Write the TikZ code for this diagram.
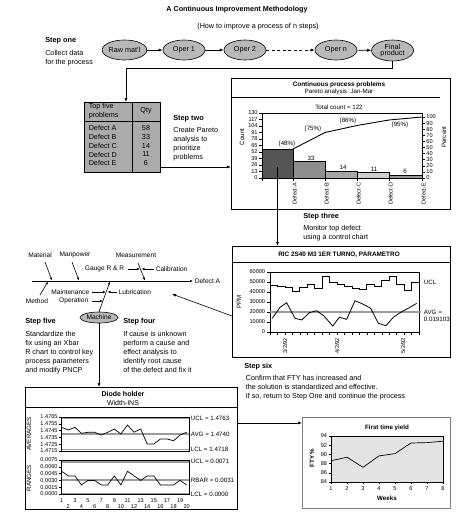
\documentclass[tikz,border=0pt]{standalone}
\usepackage{fontspec}
\setmainfont{Liberation Sans}
\usetikzlibrary{arrows.meta,shapes.geometric}
\definecolor{ellgray}{HTML}{B8B8B8}
\definecolor{tblgray}{HTML}{ABABAB}
\definecolor{ctlgray}{HTML}{9C9C9C}
\definecolor{barAc}{HTML}{555555}
\definecolor{barBc}{HTML}{8E8E8E}
\definecolor{barCc}{HTML}{A6A6A6}
\definecolor{barDc}{HTML}{D0D0D0}
\definecolor{barEc}{HTML}{9A9A9A}
\definecolor{ftyfill}{HTML}{E3E3E3}
\begin{document}
\begin{tikzpicture}[x=1pt,y=-1pt, line width=0.6pt,
  head/.style={font=\bfseries\fontsize{7.3}{9}\selectfont, inner sep=0pt, anchor=west},
  body/.style={font=\fontsize{7.2}{9}\selectfont, inner sep=0pt, anchor=north west, align=left},
  txt/.style={font=\fontsize{7.2}{9}\selectfont, inner sep=0.5pt},
  proc/.style={ellipse, draw, fill=ellgray, minimum width=42pt, minimum height=20pt, inner sep=0pt, font=\fontsize{7.2}{8}\selectfont, align=center},
  arr/.style={-{Latex[length=4pt,width=3pt]}, line width=0.6pt},
  sarr/.style={-{Latex[length=3pt,width=2.4pt]}, line width=0.6pt},
  lbl/.style={font=\fontsize{5.6}{6}\selectfont, inner sep=0.6pt},
  clbl/.style={font=\fontsize{6.2}{7}\selectfont, inner sep=0.6pt},
  ptitle/.style={font=\bfseries\fontsize{6.4}{7.5}\selectfont, inner sep=0pt},
  fish/.style={font=\fontsize{6.6}{7.5}\selectfont, inner sep=0.5pt},
  ctl/.style={line width=1.5pt, draw=ctlgray},
  panel/.style={draw, line width=0.7pt, anchor=north west, inner sep=0pt},
]
\useasboundingbox (0,0) rectangle (474,514);

% ---------------- title
\node[font=\bfseries\fontsize{7.2}{9}\selectfont] (title) at (237,10) {A Continuous Improvement Methodology};
\node[txt] (subtitle) at (258,27) {(How to improve a process of n steps)};

% ---------------- step one
\node[head] (s1h) at (45,41) {Step one};
\node[body] (s1b) at (45,49.5) {Collect data\\for the process};

\node[proc] (raw) at (124.5,50) {Raw mat'l};
\node[proc] (op1) at (184,50) {Oper 1};
\node[proc] (op2) at (245,50) {Oper 2};
\node[proc] (opn) at (336,50) {Oper n};
\node[proc, minimum height=21pt] (final) at (392.5,50.5) {Final\\[-1.5pt]product};
\draw[arr] (raw) -- (op1);
\draw[arr] (op1) -- (op2);
\draw[arr, dashed, dash pattern=on 3pt off 2.5pt] (op2) -- (opn);
\draw[arr] (opn) -- (final);

% ---------------- table
\node[draw, fill=tblgray, minimum width=76pt, minimum height=70pt, anchor=north west, inner sep=0pt] (tbl) at (84,102) {};
\draw ([xshift=48pt]tbl.north west) -- ([xshift=48pt]tbl.south west);
\draw (tbl.west |- 0,121) -- (tbl.east |- 0,121);
\node[txt, anchor=west, align=left] (th1) at (88,111) {Top five\\problems};
\node[txt] (th2) at (146,111) {Qty};
\foreach \n/\q/\yy in {A/58/128,B/33/137,C/14/146,D/11/154.5,E/6/163}{
  \node[txt, anchor=west] (tr\n) at (88,\yy) {Defect \n};
  \node[txt] (tq\n) at (146,\yy) {\q};
}
\coordinate (bend) at (126,68);
\draw[arr] (final.south) |- (bend) -- (bend |- tbl.north);

% ---------------- step two
\node[head] (s2h) at (173,119) {Step two};
\node[body] (s2b) at (173,127.5) {Create Pareto\\analysis to\\prioritize\\problems};

% ---------------- pareto panel
\node[panel, minimum width=219pt, minimum height=131pt] (pareto) at (231,78) {};
\draw (pareto.west |- 0,97) -- (440,97);
\node[ptitle] (pt1) at (339,85) {Continuous process problems};
\node[clbl] (pt2) at (339,92) {Pareto analysis\ \ Jan-Mar};
\node[clbl] (pt3) at (339,107) {Total count = 122};
\draw[arr] (tbl.east |- 0,167) -- (pareto.west |- 0,167);

\fill[barAc] (262,178) rectangle (293,149);
\fill[barBc] (293,178) rectangle (325,161.5);
\fill[barCc] (325,178) rectangle (357,171);
\fill[barDc] (357,178) rectangle (389,172.5);
\fill[barEc] (389,178) rectangle (422,175);
\draw[line width=0.4pt] (262,178) rectangle (293,149) (293,178) rectangle (325,161.5) (325,178) rectangle (357,171) (357,178) rectangle (389,172.5) (389,178) rectangle (422,175);
\draw[line width=0.5pt] (262,113) rectangle (422,178);
\foreach \i in {0,...,10}{
  \pgfmathsetmacro\yy{178-6.5*\i}
  \pgfmathtruncatemacro\vv{13*\i}
  \draw[line width=0.5pt] (259,\yy) -- (262,\yy);
  \node[lbl, anchor=east] (pl\i) at (258.5,\yy) {\vv};
  \pgfmathsetmacro\yr{178-6.1*\i}
  \pgfmathtruncatemacro\vr{10*\i}
  \draw[line width=0.5pt] (422,\yr) -- (425,\yr);
  \node[lbl, anchor=west] (pr\i) at (425.5,\yr) {\vr};
}
\draw[line width=0.9pt] (293,149) -- (325,132.5) -- (357,125.5) -- (389,120) -- (422,117);
\node[clbl] (c48) at (287,144) {(48\%)};
\node[clbl] (c75) at (313,129) {(75\%)};
\node[clbl] (c86) at (348,121) {(86\%)};
\node[clbl] (c95) at (400,125) {(95\%)};
\node[clbl] (n33) at (311,158.5) {33};
\node[clbl] (n14) at (343,167.5) {14};
\node[clbl] (n11) at (374,169) {11};
\node[clbl] (n6) at (405,171) {6};
\foreach \xx/\n in {293/A,325/B,357/C,389/D,422/E}{
  \draw[line width=0.5pt] (\xx,178) -- (\xx,181);
  \node[lbl, rotate=90, anchor=east] (px\n) at (\xx+1.5,182) {Defect-\n};
}
\draw[line width=0.5pt] (262,178) -- (262,181);
\node[clbl, rotate=90] (cnt) at (242,137) {Count};
\node[clbl, rotate=90] (pct) at (444,137) {Percent};
\coordinate (barA) at (277.5,167);

% ---------------- step three
\node[head] (s3h) at (303,217) {Step three};
\node[body] (s3b) at (303,224.5) {Monitor top defect\\using a control chart};

% ---------------- control chart panel
\node[panel, minimum width=218pt, minimum height=111pt] (ctrl) at (232,246) {};
\draw (ctrl.west |- 0,262) -- (ctrl.east |- 0,262);
\node[ptitle] (ct) at (339,255) {RIC 2S40 M3 1ER TURNO, PARAMETRO};
\draw[arr] (barA) -- (barA |- ctrl.north);
\draw[line width=0.5pt] (270,272) rectangle (419,332);
\foreach \i in {0,...,6}{
  \pgfmathsetmacro\yy{332-10*\i}
  \draw[line width=0.5pt] (267,\yy) -- (270,\yy);
  \node[lbl, anchor=east] (cl\i) at (266,\yy) {\ifnum\i=0 0\else\i0000\fi};
}
\foreach \i in {0,...,20}{
  \pgfmathsetmacro\xx{270+7.45*\i}
  \draw[line width=0.5pt] (\xx,332) -- (\xx,335);
}
\draw[ctl] (270,312) -- (421,312);
\draw[line width=0.8pt] plot[const plot] coordinates {(270,285) (277.45,286) (284.9,287.3) (292.35,291.7) (299.8,287.3) (307.25,284) (314.7,288.7) (322.15,276.7) (329.6,282.3) (337.05,284) (344.5,286) (351.95,288.3) (359.4,289.3) (366.85,284) (374.3,286) (381.75,280) (389.2,276.7) (396.65,284) (404.1,290) (411.55,282.3) (419,282.3)};
\draw[line width=0.8pt] (272.3,318.3) -- (280,307.3) -- (286.7,302.7) -- (295,318.3) -- (301.7,320) -- (309.3,312.7) -- (316.7,310.7) -- (324,316) -- (332.7,326) -- (339.3,317.3) -- (346.7,319.3) -- (355,300.7) -- (362.7,304) -- (370.7,308.3) -- (378.3,323.3) -- (386,325.7) -- (393.3,317.3) -- (401.7,311.7) -- (409.3,307.7) -- (416.7,303.3);
\node[clbl, rotate=90] (ppm) at (239,302) {PPM};
\node[clbl, anchor=west] (ucl) at (423,282) {UCL};
\node[clbl, anchor=west, align=left, font=\fontsize{6.2}{7}\selectfont] (avg) at (423,315.5) {AVG =\\0.019103};
\foreach \xx/\d in {285/3,337/4,403/5}{
  \node[lbl, rotate=90, anchor=east] (cd\d) at (\xx,337) {\d/2/92};
}

% ---------------- fishbone
\coordinate (spineL) at (32,281);
\node[fish, anchor=west, inner sep=1.5pt] (defA) at (193,281) {Defect A};
\draw[sarr, line width=0.8pt] (spineL) -- (defA.west);
\node[fish] (mat) at (40,255) {Material};
\node[fish] (manp) at (75,255) {Manpower};
\node[fish] (meas) at (136,255) {Measurement};
\node[fish] (meth) at (37,301) {Method};
\node[fish, anchor=east] (gauge) at (125,269) {Gauge R \& R};
\node[fish, anchor=west] (calib) at (155,269) {Calibration};
\node[fish, anchor=east] (maint) at (90,292) {Maintenance};
\node[fish, anchor=west] (lubr) at (118,292) {Lubrication};
\node[fish, anchor=east] (oper) at (89,301) {Operation};
\node[ellipse, draw, fill=ellgray, minimum width=38pt, minimum height=11pt, inner sep=0pt, font=\fontsize{6.6}{7.5}\selectfont] (machine) at (99,317.5) {Machine};
\coordinate (matA) at (45,262); \coordinate (matB) at (52,280.5);
\coordinate (manA) at (72,262); \coordinate (manB) at (79,280.5);
\coordinate (meaA) at (138,263); \coordinate (meaB) at (145,280.5);
\coordinate (metA) at (40,295); \coordinate (metB) at (48,281.5);
\coordinate (macB) at (110,281.5);
\coordinate (gB) at (140,269); \coordinate (cB) at (141.5,269);
\coordinate (mB) at (106,292); \coordinate (lB) at (107.5,292);
\coordinate (oB) at (103,301);
\draw[sarr] (matA) -- (matB);
\draw[sarr] (manA) -- (manB);
\draw[sarr] (meaA) -- (meaB);
\draw[sarr] (metA) -- (metB);
\draw[sarr] (machine.north) -- (macB);
\draw[sarr] (gauge.east) ++(2.5,0) -- (gB);
\draw[sarr] (calib.west) ++(-1.5,0) -- (cB);
\draw[sarr] (maint.east) ++(2,0) -- (mB);
\draw[sarr] (lubr.west) ++(-1,0) -- (lB);
\draw[sarr] (oper.east) ++(2.5,0) -- (oB);
\coordinate (fishT) at (172,294);
\draw[arr] (ctrl.west |- 0,316) -- (fishT);

% ---------------- step four / five
\node[head] (s5h) at (25,322) {Step five};
\node[body] (s5b) at (25,330.5) {Standardize the\\fix using an Xbar\\R chart to control key\\process parameters\\and modify PNCP};
\node[head] (s4h) at (123,322) {Step four};
\node[body] (s4b) at (123,330.5) {If cause is unknown\\perform a cause and\\effect analysis to\\identify root cause\\of the defect and fix it};

% ---------------- step six
\node[head] (s6h) at (244,367) {Step six};
\node[body] (s6b) at (245.5,374.5) {Confirm that FTY has increased and\\the solution is standardized and effective.\\If so, return to Step One and continue the process};

% ---------------- diode panel
\node[panel, minimum width=212pt, minimum height=122pt] (diode) at (25,387) {};
\draw (diode.west |- 0,407) -- (diode.east |- 0,407);
\node[font=\bfseries\fontsize{7}{8}\selectfont, inner sep=0pt] (dt1) at (123,394) {Diode holder};
\node[font=\fontsize{7}{8}\selectfont, inner sep=0pt] (dt2) at (123,402.5) {Width-INS};
\draw[arr] (machine.south) -- (machine.south |- diode.north);
% averages
\draw[line width=0.4pt] (61,417) rectangle (189,451);
\draw[ctl] (61,418.4) -- (189,418.4);
\draw[ctl] (61,434) -- (189,434);
\draw[ctl] (61,449.5) -- (189,449.5);
\draw[line width=0.6pt] (61,417) -- (61,451);
\foreach \v [count=\k from 0] in {1.4765,1.4755,1.4745,1.4735,1.4725,1.4715}{
  \pgfmathsetmacro\yy{417+6.8*\k}
  \draw[line width=0.5pt] (59,\yy) -- (61,\yy);
  \node[lbl, anchor=east] (al\k) at (58.5,\yy) {\v};
}
\draw[line width=0.7pt] plot coordinates {(61.7,427.3) (68.3,430) (74.9,427.3) (81.4,433.3) (88,432.3) (94.6,432.3) (101.2,435) (107.8,432.3) (114.3,429) (120.9,434) (127.5,425) (134.1,432.3) (140.7,429) (147.2,444) (153.8,444) (160.4,439) (167,439) (173.6,440.7) (180.1,435) (186.7,432.3)};
\node[clbl, rotate=90] (avl) at (29,434) {AVERAGES};
\node[clbl, anchor=west] (au) at (190,418.4) {UCL = 1.4763};
\node[clbl, anchor=west] (aa) at (190,434) {AVG = 1.4740};
\node[clbl, anchor=west] (al) at (190,449.5) {LCL = 1.4718};
% ranges
\draw[line width=0.4pt] (61,460) rectangle (189,494);
\draw[ctl] (61,461.8) -- (189,461.8);
\draw[ctl] (61,480) -- (189,480);
\draw[ctl] (61,493.5) -- (189,493.5);
\draw[line width=0.6pt] (61,460) -- (61,494);
\foreach \v [count=\k from 0] in {0.0075,0.0060,0.0045,0.0030,0.0015,0.0000}{
  \pgfmathsetmacro\yy{460+6.8*\k}
  \draw[line width=0.5pt] (59,\yy) -- (61,\yy);
  \node[lbl, anchor=east] (rl\k) at (58.5,\yy) {\v};
}
\draw[line width=0.7pt] plot coordinates {(61.7,471.3) (68.3,475.9) (74.9,475.9) (81.4,484.9) (88,480.4) (94.6,480.4) (101.2,484.9) (107.8,484.9) (114.3,475.9) (120.9,484.9) (127.5,471.3) (134.1,475.9) (140.7,480.4) (147.2,475.9) (153.8,475.9) (160.4,484.9) (167,484.9) (173.6,484.9) (180.1,480.4) (186.7,484.9)};
\node[clbl, rotate=90] (rgl) at (29,478) {RANGES};
\node[clbl, anchor=west] (ru) at (190,461.8) {UCL = 0.0071};
\node[clbl, anchor=west] (rr) at (190,480) {RBAR = 0.0031};
\node[clbl, anchor=west] (rlc) at (190,494) {LCL = 0.0000};
\foreach \i in {1,...,20}{
  \pgfmathsetmacro\xx{61.7+6.58*(\i-1)}
  \pgfmathtruncatemacro\odd{mod(\i,2)}
  \ifnum\odd=1
    \node[lbl] (xl\i) at (\xx,501) {\i};
  \else
    \node[lbl] (xl\i) at (\xx,507) {\i};
  \fi
}

% ---------------- FTY panel
\node[panel, draw=gray, minimum width=148pt, minimum height=91pt] (fty) at (302,417) {};
\draw[arr] (diode.east |- 0,423) -- (fty.west |- 0,423);
\node[ptitle, font=\bfseries\fontsize{6.2}{7}\selectfont] (ft) at (387,428) {First time yield};
\fill[ftyfill] (331,436) rectangle (443,482);
\draw[line width=0.4pt] (331,436) rectangle (443,482);
\foreach \v [count=\k from 0] in {94,92,90,88,86,84}{
  \pgfmathsetmacro\yy{436+9.2*\k}
  \draw[line width=0.5pt] (329,\yy) -- (331,\yy);
  \node[lbl, anchor=east] (fl\k) at (328,\yy) {\v};
}
\foreach \i in {1,...,8}{
  \pgfmathsetmacro\xx{331+16*(\i-1)}
  \draw[line width=0.5pt] (\xx,482) -- (\xx,484);
  \node[lbl] (fx\i) at (\xx,488.5) {\i};
}
\draw[line width=0.7pt] plot[mark=square*, mark size=1pt] coordinates {(331,460.8) (347,457.2) (363,467.3) (379,455.9) (395,453.6) (411,443) (427,442.6) (443,441.2)};
\node[font=\bfseries\fontsize{6.2}{7}\selectfont, rotate=90, inner sep=0pt] (fy) at (312,458) {FTY \%};
\node[font=\bfseries\fontsize{6.2}{7}\selectfont, inner sep=0pt] (fw) at (387,498) {Weeks};
\end{tikzpicture}
\end{document}
